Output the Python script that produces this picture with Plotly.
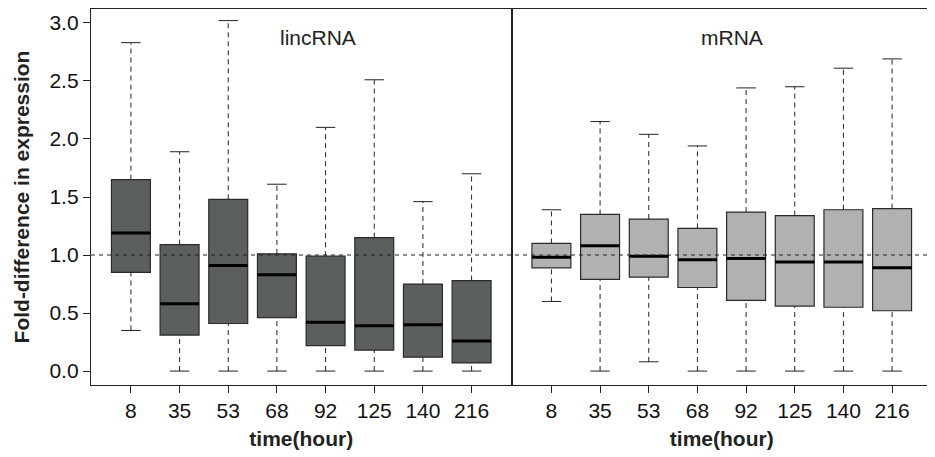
import plotly.graph_objects as go
from plotly.subplots import make_subplots

categories = ["8", "35", "53", "68", "92", "125", "140", "216"]

# lincRNA
linc_lower = [0.35, 0.0, 0.0, 0.0, 0.0, 0.0, 0.0, 0.0]
linc_q1 = [0.85, 0.31, 0.41, 0.46, 0.22, 0.18, 0.12, 0.07]
linc_median = [1.19, 0.58, 0.91, 0.83, 0.42, 0.39, 0.40, 0.26]
linc_q3 = [1.65, 1.09, 1.48, 1.01, 0.99, 1.15, 0.75, 0.78]
linc_upper = [2.83, 1.89, 3.02, 1.61, 2.10, 2.51, 1.46, 1.70]

# mRNA
mrna_lower = [0.60, 0.0, 0.08, 0.0, 0.0, 0.0, 0.0, 0.0]
mrna_q1 = [0.89, 0.79, 0.81, 0.72, 0.61, 0.56, 0.55, 0.52]
mrna_median = [0.98, 1.08, 0.99, 0.96, 0.97, 0.94, 0.94, 0.89]
mrna_q3 = [1.10, 1.35, 1.31, 1.23, 1.37, 1.34, 1.39, 1.40]
mrna_upper = [1.39, 2.15, 2.04, 1.94, 2.44, 2.45, 2.61, 2.69]

panels = [
    ("lincRNA", "#5c5f5f", linc_lower, linc_q1, linc_median, linc_q3, linc_upper),
    ("mRNA", "#b0b2b2", mrna_lower, mrna_q1, mrna_median, mrna_q3, mrna_upper),
]

positions = list(range(1, len(categories) + 1))
BW = 0.8
CAP = 0.2
FONT = "Liberation Sans, Arial, sans-serif"

fig = make_subplots(rows=1, cols=2, shared_yaxes=True, horizontal_spacing=0)

for col, (name, color, lo, q1, med, q3, up) in enumerate(panels, start=1):
    wx, wy = [], []
    for p, a, b, c, d in zip(positions, lo, q1, q3, up):
        wx += [p, p, None, p, p, None]
        wy += [a, b, None, c, d, None]
    fig.add_trace(go.Scatter(x=wx, y=wy, mode="lines",
                             line=dict(color="#222", width=1, dash="5px,4px"),
                             hoverinfo="skip", showlegend=False), row=1, col=col)
    cx, cy = [], []
    for p, a, d in zip(positions, lo, up):
        cx += [p - CAP, p + CAP, None, p - CAP, p + CAP, None]
        cy += [a, a, None, d, d, None]
    fig.add_trace(go.Scatter(x=cx, y=cy, mode="lines",
                             line=dict(color="#222", width=1),
                             hoverinfo="skip", showlegend=False), row=1, col=col)
    fig.add_trace(go.Box(x=positions, q1=q1, median=med, q3=q3,
                         lowerfence=q1, upperfence=q3, width=BW,
                         fillcolor=color, line=dict(color="#2a2a2a", width=1.2),
                         boxpoints=False, whiskerwidth=0, name=name,
                         showlegend=False), row=1, col=col)
    mx, my = [], []
    for p, m in zip(positions, med):
        mx += [p - BW / 2, p + BW / 2, None]
        my += [m, m, None]
    fig.add_trace(go.Scatter(x=mx, y=my, mode="lines",
                             line=dict(color="black", width=3),
                             hoverinfo="skip", showlegend=False), row=1, col=col)

fig.update_xaxes(range=[0.18, 8.82], tickmode="array", tickvals=positions,
                 ticktext=categories, ticks="outside", ticklen=7, tickwidth=1,
                 tickcolor="#222", showgrid=False, zeroline=False,
                 showline=True, mirror=True, linecolor="#222", linewidth=1.3,
                 automargin=False,
                 tickfont=dict(size=21, color="#111"),
                 title=dict(text="<b>time(hour)</b>", font=dict(size=21, color="#222"),
                            standoff=9))

fig.update_yaxes(range=[-0.12, 3.12], showgrid=False, zeroline=False,
                 showline=True, mirror=True, linecolor="#222", linewidth=1.3,
                 automargin=False)
fig.update_yaxes(tickvals=[0, 0.5, 1.0, 1.5, 2.0, 2.5, 3.0],
                 ticktext=["0.0", "0.5", "1.0", "1.5", "2.0", "2.5", "3.0"],
                 ticks="outside", ticklen=7, tickcolor="#222",
                 tickfont=dict(size=21, color="#111"),
                 title=dict(text="<b>Fold-difference in expression</b>",
                            font=dict(size=21, color="#222"), standoff=14),
                 row=1, col=1)
fig.update_yaxes(showticklabels=False, ticks="", row=1, col=2)

# page body has an 8px margin, so the figure is offset; compensate in margins
fig.update_layout(
    width=935, height=457,
    margin=dict(l=83, r=11, t=1, b=80),
    plot_bgcolor="white", paper_bgcolor="white",
    font=dict(family=FONT, color="#222"),
    shapes=[dict(type="line", xref="paper", yref="y", x0=0, x1=1, y0=1, y1=1,
                 line=dict(color="#222", width=1, dash="4px,4px"), layer="above")],
    annotations=[
        dict(text="lincRNA", xref="x domain", yref="y domain", x=0.54, y=0.96,
             showarrow=False, font=dict(size=21, color="#222")),
        dict(text="mRNA", xref="x2 domain", yref="y2 domain", x=0.525, y=0.96,
             showarrow=False, font=dict(size=21, color="#222")),
    ],
)

fig.write_html("out.html")
